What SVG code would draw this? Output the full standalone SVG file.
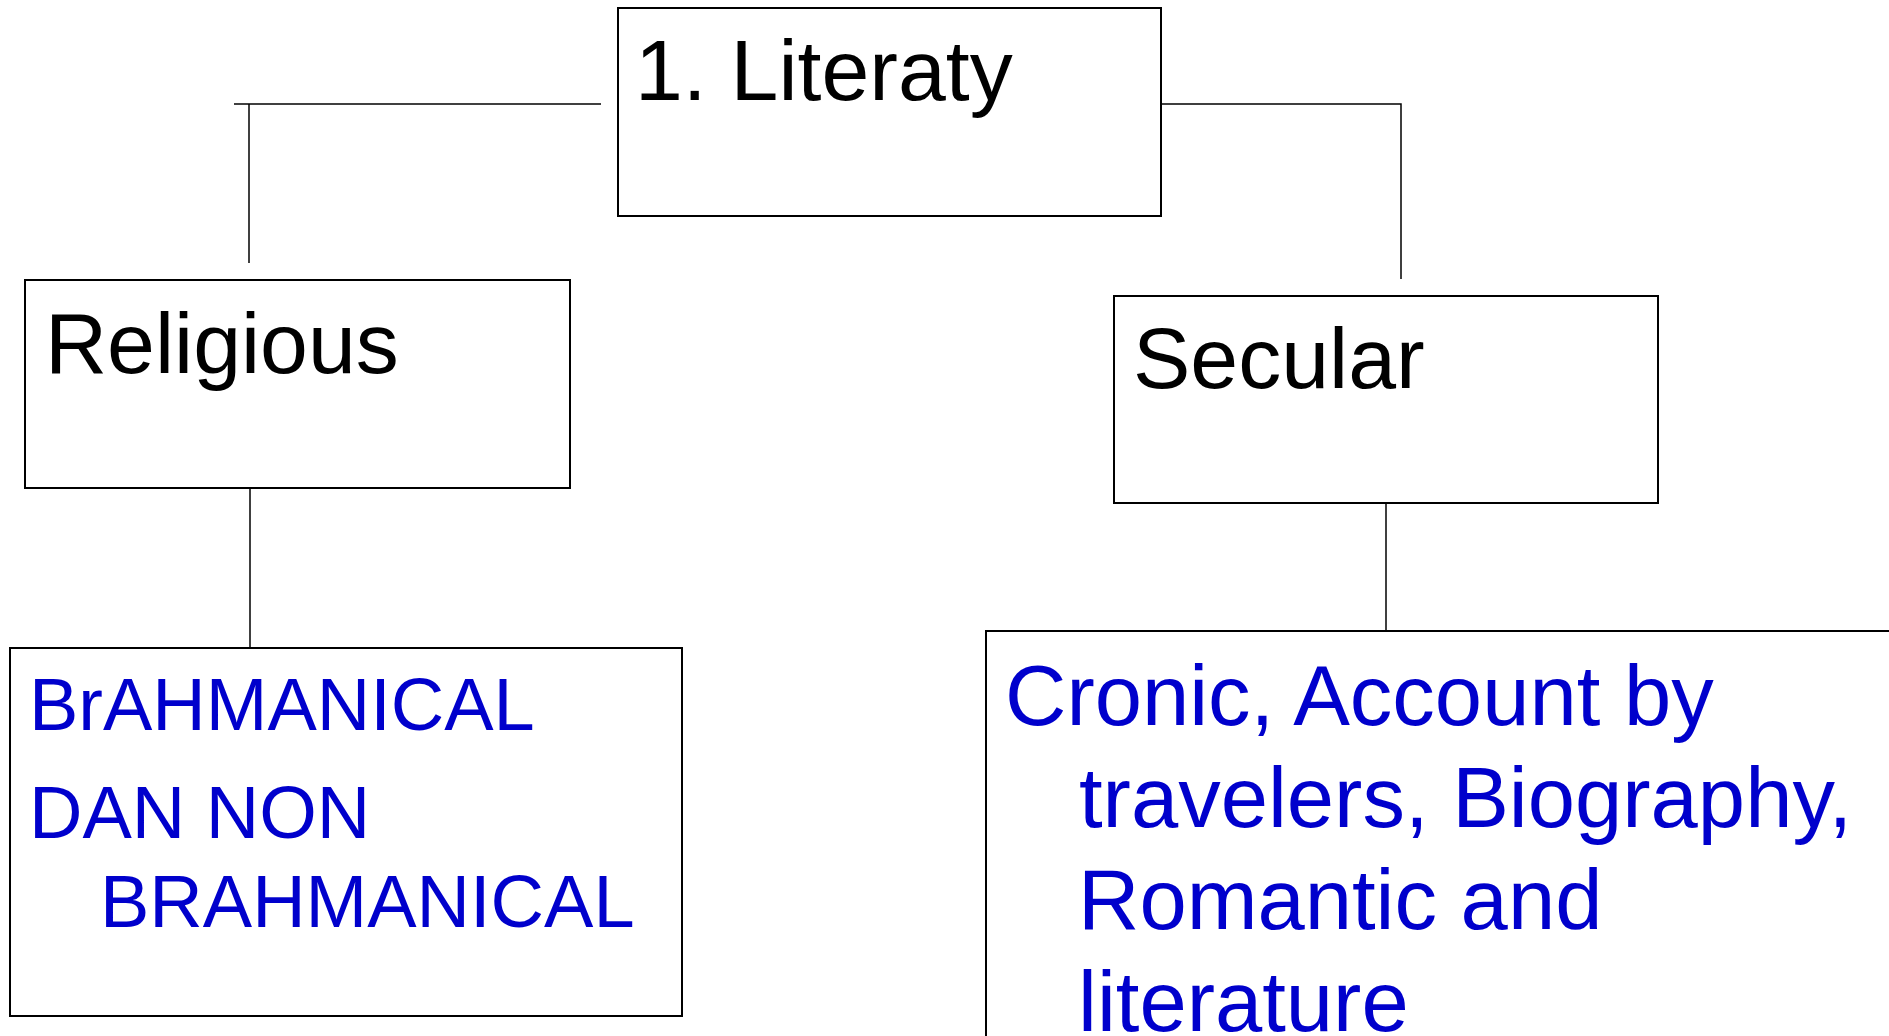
<svg xmlns="http://www.w3.org/2000/svg" width="1889" height="1036" viewBox="0 0 1889 1036">
<style>
.box{fill:#fff;stroke:#000;stroke-width:2}
.con{fill:none;stroke:#000;stroke-width:1.5}
.t{font-family:"Liberation Sans",Arial,sans-serif;font-size:86px;fill:#000}
.b{font-family:"Liberation Sans",Arial,sans-serif;fill:#0000CC}
</style>
<rect width="1889" height="1036" fill="#fff"/>
<g id="connectors">
<path class="con" d="M234,104 H601"/>
<path class="con" d="M249,104 V263"/>
<path class="con" d="M1161,104 H1401 V279"/>
<path class="con" d="M250,488 V648"/>
<path class="con" d="M1386,503 V631"/>
</g>
<g id="literaty">
<rect class="box" x="618" y="8" width="543" height="208"/>
<text class="t" x="635" y="100">1. Literaty</text>
</g>
<g id="religious">
<rect class="box" x="25" y="280" width="545" height="208"/>
<text class="t" x="45" y="373">Religious</text>
</g>
<g id="secular">
<rect class="box" x="1114" y="296" width="544" height="207"/>
<text class="t" x="1133" y="388">Secular</text>
</g>
<g id="brahmanical">
<rect class="box" x="10" y="648" width="672" height="368"/>
<text class="b" font-size="74" x="29" y="730">BrAHMANICAL</text>
<text class="b" font-size="74" x="29" y="838">DAN NON</text>
<text class="b" font-size="74" x="100" y="927">BRAHMANICAL</text>
</g>
<g id="cronic">
<rect class="box" x="986" y="631" width="920" height="420"/>
<text class="b" font-size="85" x="1005" y="725">Cronic, Account by</text>
<text class="b" font-size="85" x="1079" y="827">travelers, Biography,</text>
<text class="b" font-size="85" x="1078" y="929">Romantic and</text>
<text class="b" font-size="85" x="1078" y="1031">literature</text>
</g>
</svg>
